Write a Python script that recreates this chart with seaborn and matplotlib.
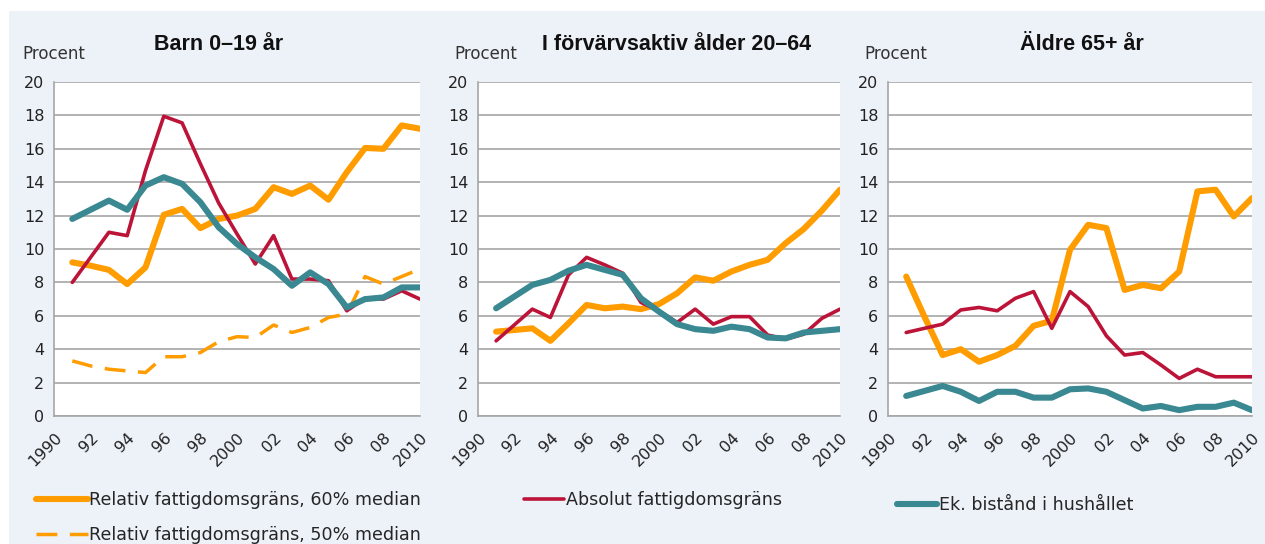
import matplotlib
matplotlib.use("Agg")
import matplotlib.pyplot as plt
import matplotlib.patches as mpatches
from matplotlib.lines import Line2D
import seaborn as sns
import pandas as pd

years = list(range(1991, 2011))

# Barn 0-19 år
barn_rel60 = [9.2, 9.0, 8.75, 7.9, 8.9, 12.05, 12.4, 11.25, 11.8, 12.0,
              12.4, 13.7, 13.3, 13.8, 12.95, 14.6, 16.05, 16.0, 17.4, 17.2]
barn_rel50 = [3.3, 3.0, 2.8, 2.7, 2.6, 3.55, 3.55, 3.8, 4.45, 4.75,
              4.7, 5.45, 5.0, 5.3, 5.9, 6.1, 8.35, 7.9, 8.35, 8.8]
barn_abs = [8.0, 9.5, 11.0, 10.8, 14.7, 17.95, 17.55, 15.1, 12.75, 10.9,
            9.1, 10.8, 8.2, 8.2, 8.1, 6.3, 7.05, 7.0, 7.5, 7.0]
barn_ek = [11.8, 12.35, 12.9, 12.35, 13.8, 14.3, 13.9, 12.8, 11.3, 10.3,
           9.5, 8.8, 7.8, 8.6, 7.9, 6.5, 7.0, 7.1, 7.7, 7.7]

# I förvärvsaktiv ålder 20-64
arb_rel60 = [5.05, 5.15, 5.25, 4.5, 5.55, 6.65, 6.45, 6.55, 6.4, 6.7,
             7.35, 8.3, 8.1, 8.65, 9.05, 9.35, 10.35, 11.2, 12.3, 13.55]
arb_abs = [4.5, 5.45, 6.4, 5.9, 8.45, 9.5, 9.05, 8.55, 6.8, 6.3,
           5.6, 6.4, 5.5, 5.95, 5.95, 4.85, 4.6, 4.9, 5.85, 6.4]
arb_ek = [6.45, 7.15, 7.85, 8.15, 8.7, 9.05, 8.75, 8.45, 7.05, 6.25,
          5.5, 5.2, 5.1, 5.35, 5.2, 4.7, 4.65, 5.0, 5.1, 5.2]

# Äldre 65+ år
aldre_rel60 = [8.35, 5.95, 3.65, 4.0, 3.25, 3.65, 4.2, 5.4, 5.7, 9.95,
               11.45, 11.25, 7.55, 7.85, 7.65, 8.65, 13.45, 13.55, 11.95, 13.05]
aldre_abs = [5.0, 5.25, 5.5, 6.35, 6.5, 6.3, 7.05, 7.45, 5.25, 7.45,
             6.55, 4.8, 3.65, 3.8, 3.05, 2.25, 2.8, 2.35, 2.35, 2.35]
aldre_ek = [1.2, 1.5, 1.8, 1.45, 0.9, 1.45, 1.45, 1.1, 1.1, 1.6,
            1.65, 1.45, 0.95, 0.45, 0.6, 0.35, 0.55, 0.55, 0.8, 0.35]

titles = ["Barn 0–19 år", "I förvärvsaktiv ålder 20–64", "Äldre 65+ år"]
xtick_labels = ["1990", "92", "94", "96", "98", "2000", "02", "04", "06", "08", "2010"]

lbl60 = "Relativ fattigdomsgräns, 60% median"
lbl50 = "Relativ fattigdomsgräns, 50% median"
lblabs = "Absolut fattigdomsgräns"
lblek = "Ek. bistånd i hushållet"

c_orange = "#FF9C00"
c_red = "#BC1438"
c_teal = "#3A8891"
bg = "#EDF2F9"
grid_c = "#A6A6A6"

sns.set_style("white")
plt.rcParams["font.family"] = ["DejaVu Sans"]

fig = plt.figure(figsize=(12.65, 5.44), dpi=100)
fig.patch.set_facecolor("white")
fig.patches.append(mpatches.Rectangle((9 / 1265, 0), 1 - 9 / 1265, 1 - 11 / 544,
                                      transform=fig.transFigure, facecolor=bg,
                                      edgecolor="none", zorder=-10))

W, H = 1265, 544
boxes = [(54, 420), (478, 840), (888, 1252)]
title_x = [219, 677, 1082]
procent_x = [22, 454, 864]

panels = [
    [(lbl60, barn_rel60), (lbl50, barn_rel50), (lblabs, barn_abs), (lblek, barn_ek)],
    [(lbl60, arb_rel60), (lblabs, arb_abs), (lblek, arb_ek)],
    [(lbl60, aldre_rel60), (lblabs, aldre_abs), (lblek, aldre_ek)],
]

styles = {
    lbl60: dict(color=c_orange, lw=4.4, zorder=3),
    lbl50: dict(color=c_orange, lw=2.5, dashes=(6, 3.6), zorder=2),
    lblabs: dict(color=c_red, lw=2.6, zorder=4),
    lblek: dict(color=c_teal, lw=4.4, zorder=5),
}

for i, (x0, x1) in enumerate(boxes):
    ax = fig.add_axes([x0 / W, (H - 416) / H, (x1 - x0) / W, (416 - 82) / H])
    ax.set_facecolor("white")
    for name, vals in panels[i]:
        df = pd.DataFrame({"year": years, "value": vals})
        st = styles[name]
        kw = dict(color=st["color"], linewidth=st["lw"], zorder=st["zorder"])
        if "dashes" in st:
            kw["dashes"] = st["dashes"]
            kw["dash_capstyle"] = "butt"
        else:
            kw["solid_capstyle"] = "round"
            kw["solid_joinstyle"] = "round"
        sns.lineplot(data=df, x="year", y="value", ax=ax, **kw)

    ax.set_xlim(1990, 2010)
    ax.set_ylim(0, 20)
    ax.set_yticks(range(0, 21, 2))
    ax.set_xticks(range(1990, 2011))
    ax.set_xticklabels([xtick_labels[(y - 1990) // 2] if y % 2 == 0 else "" for y in range(1990, 2011)],
                       rotation=45, ha="right", rotation_mode="anchor")
    ax.set_xlabel("")
    ax.set_ylabel("")
    ax.grid(axis="y", color=grid_c, lw=1.2)
    ax.set_axisbelow(True)
    for s in ["top", "right"]:
        ax.spines[s].set_visible(False)
    for s in ["left", "bottom"]:
        ax.spines[s].set_color(grid_c)
        ax.spines[s].set_linewidth(1.2)
    ax.tick_params(axis="both", direction="out", length=4, width=1.0, color=grid_c,
                   labelsize=11.5, labelcolor="#222222", pad=3)
    ax.tick_params(axis="x", pad=6)
    if ax.get_legend():
        ax.get_legend().remove()

    fig.text(title_x[i] / W, 1 - 45 / H, titles[i], ha="center", va="center",
             fontsize=15.5, fontweight="bold", family=["Liberation Sans"], color="#111111")
    fig.text(procent_x[i] / W, 1 - 54 / H, "Procent", ha="left", va="center",
             fontsize=12, color="#333333")

def handle(name):
    st = styles[name]
    if "dashes" in st:
        return Line2D([], [], color=st["color"], lw=st["lw"], dashes=st["dashes"])
    return Line2D([], [], color=st["color"], lw=st["lw"], solid_capstyle="round")

leg_kw = dict(frameon=False, fontsize=12.6, handletextpad=0.1,
              labelspacing=0.95, borderaxespad=0, borderpad=0)
fig.legend([handle(lbl60), handle(lbl50)], [lbl60, lbl50], loc="upper left",
           bbox_to_anchor=(36 / W, 1 - 491 / H), handlelength=2.95, **leg_kw)
fig.legend([handle(lblabs)], [lblabs], loc="upper left",
           bbox_to_anchor=(524 / W, 1 - 491 / H), handlelength=2.3, **leg_kw)
fig.legend([handle(lblek)], [lblek], loc="upper left",
           bbox_to_anchor=(897 / W, 1 - 496 / H), handlelength=2.3, **leg_kw)

fig.savefig("out.png", dpi=100, facecolor=fig.get_facecolor())
